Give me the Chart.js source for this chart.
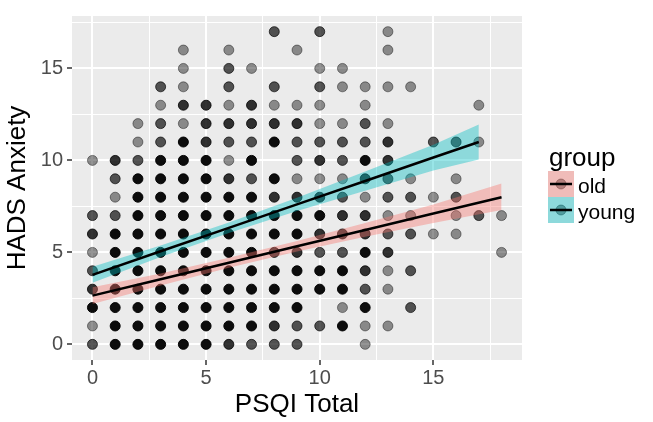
<!DOCTYPE html>
<html>
<head>
<meta charset="utf-8">
<script src="https://cdn.jsdelivr.net/npm/chart.js@4.4.0/dist/chart.umd.min.js"></script>
<style>
  html, body { margin: 0; padding: 0; background: #fff; }
  #wrap { position: relative; width: 653px; height: 422px; }
</style>
</head>
<body>
<div id="wrap"><canvas id="chart" width="653" height="422"></canvas></div>
<script>
// PSQI total for each column of the scatter
const psqi = [0, 1, 2, 3, 4, 5, 6, 7, 8, 9, 10, 11, 12, 13, 14, 15, 16, 17, 18];
// HADS anxiety values, one per character in the strings below
const anxiety = [0, 1, 2, 3, 4, 5, 6, 7, 8, 9, 10, 11, 12, 13, 14, 15, 16, 17];
// how many people overlap at (psqi, anxiety): 0 none .. 4 many (read from darkness)
const stackCounts = [
  "214321320010000000",
  "444444421230000000",
  "444444444421100000",
  "444444444442212000",
  "444444444444131110",
  "444444444443330000",
  "344444444312312210",
  "244444444242330100",
  "234443443404312002",
  "224443443122310010",
  "020442343132112102",
  "041442332122101100",
  "114234331342211000",
  "010113212233101011",
  "002020212100001000",
  "000000101002000000",
  "000000112102000000",
  "000000020001010000",
  "000001010000000000"
];

// linear fits with 95% bands
const groups = ["old", "young"];
const oldX = [0, 3, 6, 9, 12, 15, 18];
const oldFit = [2.65, 3.54, 4.44, 5.33, 6.22, 7.11, 8.0];
const oldLow = [2.2, 3.2, 4.17, 5.05, 5.85, 6.6, 7.3];
const oldHigh = [3.1, 3.85, 4.71, 5.62, 6.6, 7.6, 8.75];
const youngX = [0, 3, 6, 9, 12, 15, 17];
const youngFit = [3.78, 5.06, 6.33, 7.61, 8.88, 10.16, 11.0];
const youngLow = [3.35, 4.75, 6.05, 7.25, 8.35, 9.45, 10.05];
const youngHigh = [4.22, 5.37, 6.62, 7.97, 9.4, 10.85, 11.95];

const majorTicks = [0, 5, 10, 15];
const minorTicks = [2.5, 7.5, 12.5, 17.5];

const FONT = '"Liberation Sans", Arial, sans-serif';
const bandFill = ['rgba(248,118,109,0.4)', 'rgba(0,191,196,0.4)'];
const levelAlpha = [0, 0.42, 0.66, 0.8, 0.95];

function xy(xs, ys) {
  return xs.map((x, i) => ({ x: x, y: ys[i] }));
}

// one scatter dataset per overlap level
const pointSets = [1, 2, 3, 4].map(level => ({
  type: 'scatter',
  data: [],
  backgroundColor: `rgba(0,0,0,${levelAlpha[level]})`,
  borderColor: `rgba(0,0,0,${levelAlpha[level]})`,
  borderWidth: 1,
  pointRadius: 5,
  order: 3
}));
psqi.forEach((x, i) => {
  stackCounts[i].split('').forEach((c, j) => {
    const n = +c;
    if (n > 0) pointSets[n - 1].data.push({ x: x, y: anxiety[j] });
  });
});

function fitLine(xs, ys) {
  return { type: 'line', data: xy(xs, ys), borderColor: '#000', borderWidth: 2.5,
           pointRadius: 0, fill: false, order: 0 };
}
function bandEdge(xs, ys, fill, color) {
  return { type: 'line', data: xy(xs, ys), borderWidth: 0, borderColor: 'rgba(0,0,0,0)',
           pointRadius: 0, fill: fill, backgroundColor: color, order: 1 };
}

const datasets = [
  fitLine(oldX, oldFit),
  fitLine(youngX, youngFit),
  bandEdge(oldX, oldHigh, '+1', bandFill[0]),
  bandEdge(oldX, oldLow, false, bandFill[0]),
  bandEdge(youngX, youngHigh, '+1', bandFill[1]),
  bandEdge(youngX, youngLow, false, bandFill[1])
].concat(pointSets);

const isMajor = v => majorTicks.includes(v);

function axis(min, max, title, titlePad) {
  return {
    type: 'linear',
    min: min,
    max: max,
    afterBuildTicks: s => { s.ticks = majorTicks.concat(minorTicks).sort((a, b) => a - b).map(v => ({ value: v })); },
    ticks: {
      autoSkip: false,
      maxRotation: 0,
      color: '#4d4d4d',
      font: { family: FONT, size: 20 },
      callback: v => isMajor(v) ? String(v) : ''
    },
    grid: {
      color: '#ffffff',
      lineWidth: c => (c.tick && isMajor(c.tick.value)) ? 2 : 1,
      tickColor: c => (c.tick && isMajor(c.tick.value)) ? '#333333' : 'rgba(0,0,0,0)',
      tickWidth: 1.5,
      tickLength: 5
    },
    border: { display: false },
    title: { display: true, text: title, color: '#000', font: { family: FONT, size: 26 }, padding: titlePad }
  };
}

const xAxis = axis(-0.9, 18.9, 'PSQI Total', { top: 0, bottom: 2 });
xAxis.ticks.padding = 1;
xAxis.afterFit = s => { s.height = 62; };
const yAxis = axis(-0.85, 17.85, 'HADS Anxiety', { top: 2, bottom: 0 });
yAxis.ticks.padding = 4;
yAxis.afterFit = s => { s.width = 72; };

const panelBg = {
  id: 'panelBg',
  beforeDraw(chart) {
    const a = chart.chartArea, ctx = chart.ctx;
    ctx.save();
    ctx.fillStyle = '#ebebeb';
    ctx.fillRect(a.left, a.top, a.right - a.left, a.bottom - a.top);
    ctx.restore();
  }
};

const ggLegend = {
  id: 'ggLegend',
  afterDraw(chart) {
    const ctx = chart.ctx;
    ctx.save();
    ctx.fillStyle = '#000';
    ctx.font = '26px ' + FONT;
    ctx.textBaseline = 'alphabetic';
    ctx.fillText('group', 549, 166);
    groups.forEach((g, i) => {
      const left = 548, top = 171 + i * 26, size = 26;
      ctx.fillStyle = '#ebebeb';
      ctx.fillRect(left, top, size, size);
      ctx.beginPath();
      ctx.arc(left + size / 2, top + size / 2, 5, 0, Math.PI * 2);
      ctx.fillStyle = 'rgba(0,0,0,0.42)';
      ctx.fill();
      ctx.strokeStyle = 'rgba(0,0,0,0.42)';
      ctx.lineWidth = 1;
      ctx.stroke();
      ctx.fillStyle = bandFill[i];
      ctx.fillRect(left, top, size, size);
      ctx.beginPath();
      ctx.moveTo(left + 2, top + size / 2);
      ctx.lineTo(left + size - 2, top + size / 2);
      ctx.strokeStyle = '#000';
      ctx.lineWidth = 2.5;
      ctx.stroke();
      ctx.fillStyle = '#000';
      ctx.font = '21px ' + FONT;
      ctx.fillText(g, 578, top + 21.5);
    });
    ctx.restore();
  }
};

new Chart(document.getElementById('chart').getContext('2d'), {
  type: 'scatter',
  data: { datasets: datasets },
  options: {
    responsive: false,
    animation: false,
    layout: { padding: { left: 0, top: 8, right: 131, bottom: 0 } },
    plugins: { legend: { display: false }, tooltip: { enabled: false } },
    scales: { x: xAxis, y: yAxis }
  },
  plugins: [panelBg, ggLegend]
});
</script>
</body>
</html>
